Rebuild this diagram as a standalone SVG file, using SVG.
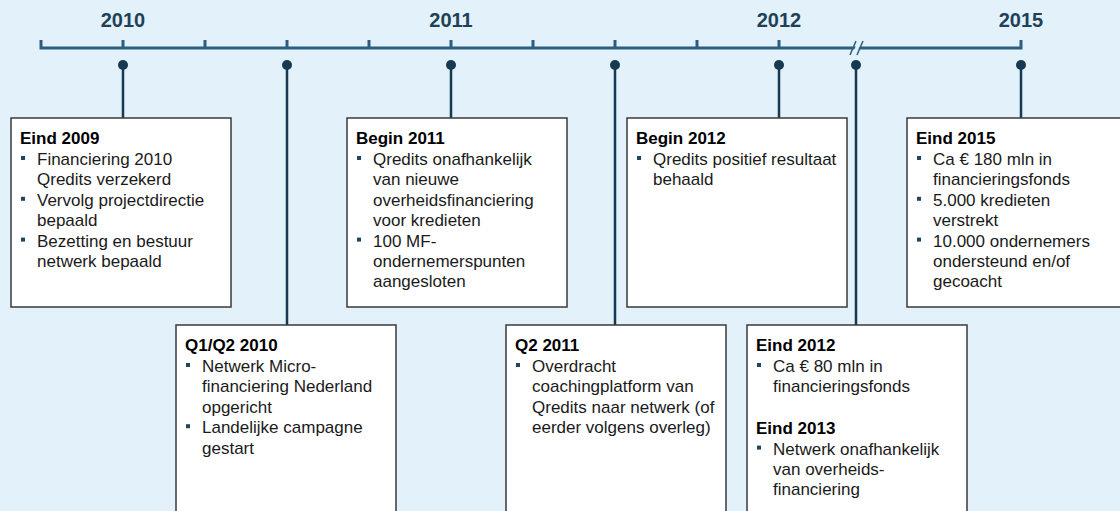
<svg xmlns="http://www.w3.org/2000/svg" width="1120" height="511" viewBox="0 0 1120 511">
<style>
.bg{fill:#E3F1FA}
.axis{fill:none;stroke:#2C5F7E;stroke-width:3;stroke-linecap:butt}
.year{font-family:"Liberation Sans",Arial,sans-serif;font-size:20px;font-weight:bold;fill:#1F4158;text-anchor:middle}
.conn{stroke:#173A50;stroke-width:2.5}
.dot{fill:#173A50}
.box{fill:#FFFFFF;stroke:#3A3A3A;stroke-width:1.5}
.t{font-family:"Liberation Sans",Arial,sans-serif;font-size:17px;font-weight:bold;fill:#000}
.b{font-family:"Liberation Sans",Arial,sans-serif;font-size:17px;fill:#1A1A1A}
.bul{fill:#1F4760}
</style>
<rect class="bg" x="0" y="0" width="1120" height="511"/>
<g id="axis">
<path class="axis" d="M41,40 V48 H1021 V40"/>
<path class="axis" d="M123,40V48 M205,40V48 M287,40V48 M369,40V48 M451,40V48 M533,40V48 M615,40V48 M697,40V48 M779,40V48"/>
<polygon class="bg" points="852,55 858,41 862,41 856,55"/>
<path stroke="#2C5F7E" stroke-width="1.5" fill="none" d="M850,55 L856,41 M857,55 L863,41"/>
<text class="year" x="123" y="27">2010</text>
<text class="year" x="451" y="27">2011</text>
<text class="year" x="779" y="27">2012</text>
<text class="year" x="1021" y="27">2015</text>
</g>
<g id="connectors">
<line class="conn" x1="123" y1="65" x2="123" y2="118"/>
<line class="conn" x1="287" y1="65" x2="287" y2="325"/>
<line class="conn" x1="451" y1="65" x2="451" y2="118"/>
<line class="conn" x1="615" y1="65" x2="615" y2="325"/>
<line class="conn" x1="779" y1="65" x2="779" y2="118"/>
<line class="conn" x1="856" y1="65" x2="856" y2="325"/>
<line class="conn" x1="1021" y1="65" x2="1021" y2="118"/>
<circle class="dot" cx="123" cy="65" r="5"/>
<circle class="dot" cx="287" cy="65" r="5"/>
<circle class="dot" cx="451" cy="65" r="5"/>
<circle class="dot" cx="615" cy="65" r="5"/>
<circle class="dot" cx="779" cy="65" r="5"/>
<circle class="dot" cx="856" cy="65" r="5"/>
<circle class="dot" cx="1021" cy="65" r="5"/>
</g>
<g id="eind2009">
<rect class="box" x="11" y="118" width="220" height="189"/>
<text class="t" x="20" y="144">Eind 2009</text>
<rect class="bul" x="21" y="156" width="4" height="4"/>
<rect class="bul" x="21" y="196.8" width="4" height="4"/>
<rect class="bul" x="21" y="237.6" width="4" height="4"/>
<text class="b" x="37"><tspan x="37" y="165">Financiering 2010</tspan><tspan x="37" y="185.4">Qredits verzekerd</tspan><tspan x="37" y="205.8">Vervolg projectdirectie</tspan><tspan x="37" y="226.2">bepaald</tspan><tspan x="37" y="246.6">Bezetting en bestuur</tspan><tspan x="37" y="267">netwerk bepaald</tspan></text>
</g>
<g id="q1q22010">
<rect class="box" x="176" y="325" width="220" height="200"/>
<text class="t" x="185" y="351">Q1/Q2 2010</text>
<rect class="bul" x="186" y="363" width="4" height="4"/>
<rect class="bul" x="186" y="424.2" width="4" height="4"/>
<text class="b"><tspan x="202" y="372">Netwerk Micro-</tspan><tspan x="202" y="392.4">financiering Nederland</tspan><tspan x="202" y="412.8">opgericht</tspan><tspan x="202" y="433.2">Landelijke campagne</tspan><tspan x="202" y="453.6">gestart</tspan></text>
</g>
<g id="begin2011">
<rect class="box" x="347" y="118" width="220" height="189"/>
<text class="t" x="356" y="144">Begin 2011</text>
<rect class="bul" x="357" y="156" width="4" height="4"/>
<rect class="bul" x="357" y="237.6" width="4" height="4"/>
<text class="b"><tspan x="373" y="165">Qredits onafhankelijk</tspan><tspan x="373" y="185.4">van nieuwe</tspan><tspan x="373" y="205.8">overheidsfinanciering</tspan><tspan x="373" y="226.2">voor kredieten</tspan><tspan x="373" y="246.6">100 MF-</tspan><tspan x="373" y="267">ondernemerspunten</tspan><tspan x="373" y="287.4">aangesloten</tspan></text>
</g>
<g id="q22011">
<rect class="box" x="506" y="325" width="220" height="200"/>
<text class="t" x="515" y="351">Q2 2011</text>
<rect class="bul" x="516" y="363" width="4" height="4"/>
<text class="b"><tspan x="532" y="372">Overdracht</tspan><tspan x="532" y="392.4">coachingplatform van</tspan><tspan x="532" y="412.8">Qredits naar netwerk (of</tspan><tspan x="532" y="433.2">eerder volgens overleg)</tspan></text>
</g>
<g id="begin2012">
<rect class="box" x="627" y="118" width="220" height="189"/>
<text class="t" x="636" y="144">Begin 2012</text>
<rect class="bul" x="637" y="156" width="4" height="4"/>
<text class="b"><tspan x="653" y="165">Qredits positief resultaat</tspan><tspan x="653" y="185.4">behaald</tspan></text>
</g>
<g id="eind2012">
<rect class="box" x="747" y="325" width="220" height="200"/>
<text class="t" x="756" y="351">Eind 2012</text>
<rect class="bul" x="757" y="363" width="4" height="4"/>
<text class="b"><tspan x="773" y="372">Ca € 80 mln in</tspan><tspan x="773" y="392.4">financieringsfonds</tspan></text>
<text class="t" x="756" y="434">Eind 2013</text>
<rect class="bul" x="757" y="445.6" width="4" height="4"/>
<text class="b"><tspan x="773" y="454.6">Netwerk onafhankelijk</tspan><tspan x="773" y="475">van overheids-</tspan><tspan x="773" y="495.4">financiering</tspan></text>
</g>
<g id="eind2015">
<rect class="box" x="907" y="118" width="230" height="189"/>
<text class="t" x="916" y="144">Eind 2015</text>
<rect class="bul" x="917" y="156" width="4" height="4"/>
<rect class="bul" x="917" y="196.8" width="4" height="4"/>
<rect class="bul" x="917" y="237.6" width="4" height="4"/>
<text class="b"><tspan x="933" y="165">Ca € 180 mln in</tspan><tspan x="933" y="185.4">financieringsfonds</tspan><tspan x="933" y="205.8">5.000 kredieten</tspan><tspan x="933" y="226.2">verstrekt</tspan><tspan x="933" y="246.6">10.000 ondernemers</tspan><tspan x="933" y="267">ondersteund en/of</tspan><tspan x="933" y="287.4">gecoacht</tspan></text>
</g>
</svg>
